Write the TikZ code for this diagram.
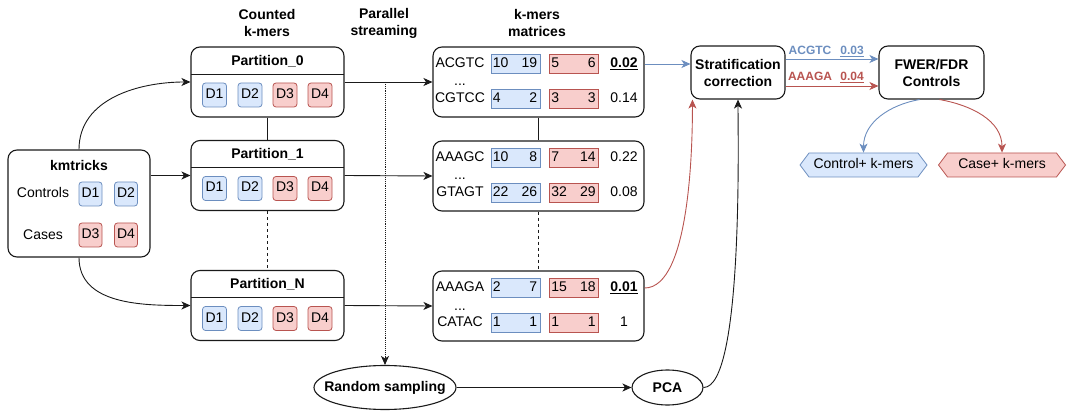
\documentclass[tikz,border=0pt]{standalone}
\usepackage{fontspec}
\setmainfont{Liberation Sans}
\usetikzlibrary{arrows.meta,shapes.geometric,shapes.symbols}
\definecolor{KMBlueFill}{HTML}{DAE8FC}
\definecolor{KMBlue}{HTML}{6C8EBF}
\definecolor{KMRedFill}{HTML}{F8CECC}
\definecolor{KMRed}{HTML}{B85450}
\definecolor{KMLine}{HTML}{1A1A1A}

\tikzset{
  txt/.style={font=\fontsize{14}{17}\selectfont, inner sep=0pt, text height=10pt, text depth=3pt},
  bold/.style={font=\fontsize{14}{17}\selectfont\bfseries, inner sep=0pt},
  lbl/.style={font=\fontsize{12}{14}\selectfont\bfseries, inner sep=0pt, text height=8.5pt, text depth=2pt},
  box/.style={draw=KMLine, line width=1.1pt, rounded corners=9pt, inner sep=0pt},
  dctl/.style={txt, draw=KMBlue, fill=KMBlueFill, rounded corners=3pt,
    minimum width=24pt, minimum height=24pt, line width=.8pt},
  dcase/.style={dctl, draw=KMRed, fill=KMRedFill},
  cellctl/.style={draw=KMBlue, fill=KMBlueFill, minimum width=49pt,
    minimum height=19pt, inner sep=0pt, line width=.8pt},
  cellcase/.style={cellctl, draw=KMRed, fill=KMRedFill},
  oval/.style={ellipse, draw=KMLine, line width=1.1pt, inner sep=0pt},
  hexa/.style={txt, signal, signal to=west and east, signal pointer angle=106,
    minimum width=127pt, minimum height=24pt, line width=.8pt},
  link/.style={KMLine, line width=.9pt},
  arr/.style={link, -{Stealth[length=9pt,width=8pt,inset=2.5pt]}},
}

% partition box: name, centre y, title
\newcommand{\partbox}[3]{%
  \node[box, minimum width=153pt, minimum height=70pt] (#1) at (267.5,#2) {};
  \node[bold] (#1t) at (267.5,{#2+21}) {#3};
  \draw[link] (191,{#2+8}) -- (344,{#2+8});
  \node[dctl] (#1d1) at (214.5,{#2-13}) {D1};
  \node[dctl] (#1d2) at (250,{#2-13}) {D2};
  \node[dcase] (#1d3) at (285,{#2-13}) {D3};
  \node[dcase] (#1d4) at (320,{#2-13}) {D4};
}

% k-mer row: name, y, k-mer, two control counts, two case counts, p-value
\newcommand{\kmrow}[8]{%
  \node[txt] (#1k) at (460,#2) {#3};
  \node[cellctl] (#1c) at (515.5,#2) {};
  \node[txt, anchor=west] (#1c1) at ([xshift=2pt]#1c.west) {#4};
  \node[txt, anchor=east] (#1c2) at ([xshift=-3pt]#1c.east) {#5};
  \node[cellcase] (#1r) at (574,#2) {};
  \node[txt, anchor=west] (#1r1) at ([xshift=2pt]#1r.west) {#6};
  \node[txt, anchor=east] (#1r2) at ([xshift=-3pt]#1r.east) {#7};
  \node[txt] (#1p) at (624,#2) {#8};
}

\begin{document}
\begin{tikzpicture}[x=1pt,y=1pt]
\path[use as bounding box] (0,0) rectangle (1067,-411);

% column titles
\node[bold, align=center] (hcount) at (267,-23.5) {Counted\\k-mers};
\node[bold, align=center] (hstream) at (384,-23.5) {Parallel\\streaming};
\node[bold, align=center] (hmat) at (537,-23.5) {k-mers\\matrices};

% kmtricks input
\node[box, minimum width=142pt, minimum height=107pt] (kmt) at (79,-203.5) {};
\node[bold] (kmtt) at (79,-165) {kmtricks};
\node[txt] (kmtctl) at (43,-194) {Controls};
\node[txt] (kmtcase) at (43,-236) {Cases};
\node[dctl, minimum width=23pt] (kmtd1) at (90.5,-194) {D1};
\node[dctl, minimum width=23pt] (kmtd2) at (126,-194) {D2};
\node[dcase, minimum width=23pt] (kmtd3) at (90.5,-235) {D3};
\node[dcase, minimum width=23pt] (kmtd4) at (126,-235) {D4};

% partitions
\partbox{p0}{-82}{Partition\_0}
\partbox{p1}{-175.5}{Partition\_1}
\partbox{pN}{-305.5}{Partition\_N}

% matrices
\node[box, minimum width=211pt, minimum height=70pt] (m0) at (538.5,-82) {};
\kmrow{ra}{-64}{ACGTC}{10}{19}{5}{6}{\textbf{\underline{0.02}}}
\node[txt] (m0dots) at (460,-82.5) {...};
\kmrow{rb}{-99}{CGTCC}{4}{2}{3}{3}{0.14}

\node[box, minimum width=211pt, minimum height=70pt] (m1) at (538.5,-176) {};
\kmrow{rc}{-158}{AAAGC}{10}{8}{7}{14}{0.22}
\node[txt] (m1dots) at (460,-176.5) {...};
\kmrow{rd}{-193}{GTAGT}{22}{26}{32}{29}{0.08}

\node[box, minimum width=211pt, minimum height=70pt] (mN) at (538.5,-306) {};
\kmrow{re}{-288}{AAAGA}{2}{7}{15}{18}{\textbf{\underline{0.01}}}
\node[txt] (mNdots) at (460,-306.5) {...};
\kmrow{rf}{-323}{CATAC}{1}{1}{1}{1}{1}

% correction and controls
\node[box, bold, align=center, minimum width=94pt, minimum height=53pt] (strat) at (738,-72.5) {Stratification\\correction};
\node[box, bold, align=center, minimum width=105pt, minimum height=53pt] (fwer) at (931.5,-72.5) {FWER/FDR\\Controls};
\node[hexa, draw=KMBlue, fill=KMBlueFill] (ctrlk) at (863.5,-165) {Control+ k-mers};
\node[hexa, draw=KMRed, fill=KMRedFill] (casek) at (1002,-165) {Case+ k-mers};

% sampling
\node[oval, bold, inner xsep=-10.5pt, minimum width=142pt, minimum height=44pt] (rs) at (385,-387.5) {Random sampling};
\node[oval, bold, minimum width=71pt, minimum height=35pt] (pca) at (667.5,-387.5) {PCA};

% connectors
\draw[arr] (kmt.north) to[out=90,in=180] (p0.west);
\draw[arr] (kmt.east |- p1.west) -- (p1.west);
\draw[arr] (kmt.south) to[out=-90,in=180] (pN.west);
\draw[link] (p0.south) -- (p1.north);
\draw[link, dashed] (p1.south) -- (pN.north);
\draw[arr] (p0.east) -- (m0.west);
\draw[arr] (p1.east) -- (m1.west);
\draw[arr] (pN.east) -- (mN.west);
\draw[link] (m0.south) -- (m1.north);
\draw[link, dashed] (m1.south) -- (mN.north);
\draw[arr, densely dotted] (rs.north |- p0.east) -- (rs.north);
\draw[arr] (rs.east) -- (pca.west);
\draw[arr] (pca.east) to[out=0,in=-90,looseness=.35] (strat.south);
\draw[arr, KMBlue] (m0.east |- rap) -- (strat.west |- rap);
\draw[arr, KMRed] (mN.east |- rep) to[out=0,in=-90,looseness=.6] ([xshift=2pt]strat.south west);
\draw[arr, KMBlue] ([yshift=13.5pt]strat.east) -- ([yshift=13.5pt]fwer.west);
\draw[arr, KMRed] ([yshift=-13.5pt]strat.east) -- ([yshift=-13.5pt]fwer.west);
\node[lbl, text=KMBlue] (lbla) at (810,-51) {ACGTC};
\node[lbl, text=KMBlue] (lblap) at (852,-51) {\underline{0.03}};
\node[lbl, text=KMRed] (lblb) at (810,-77) {AAAGA};
\node[lbl, text=KMRed] (lblbp) at (852,-77) {\underline{0.04}};
\draw[arr, KMBlue] ([xshift=-12pt]fwer.south) to[out=190,in=90] (ctrlk.north);
\draw[arr, KMRed] ([xshift=8pt]fwer.south) to[out=-10,in=90] (casek.north);
\end{tikzpicture}
\end{document}
